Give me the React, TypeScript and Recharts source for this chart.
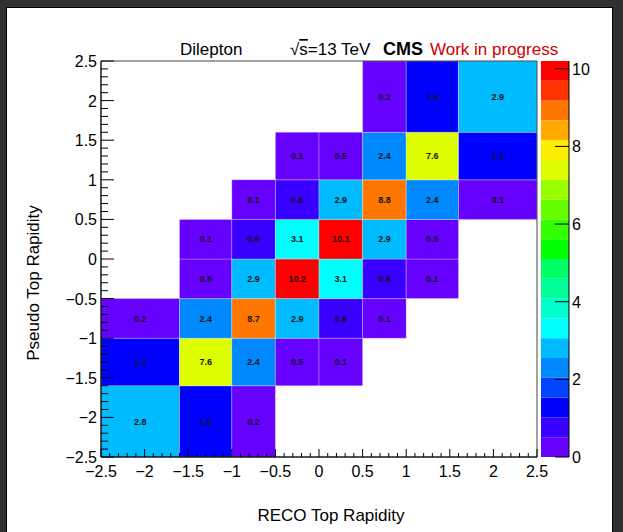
import React from 'react'
import { ScatterChart, Scatter, XAxis, YAxis, ReferenceArea } from 'recharts'

// bin edges (same binning on both axes)
const xEdges = [-2.5, -1.6, -1, -0.5, 0, 0.5, 1, 1.6, 2.5]
const yEdges = [-2.5, -1.6, -1, -0.5, 0, 0.5, 1, 1.6, 2.5]

// one array per y bin, bottom to top; null = empty bin
const row0 = [2.8, 1.5, 0.2, null, null, null, null, null]
const row1 = [1.2, 7.6, 2.4, 0.5, 0.1, null, null, null]
const row2 = [0.2, 2.4, 8.7, 2.9, 0.6, 0.1, null, null]
const row3 = [null, 0.5, 2.9, 10.2, 3.1, 0.6, 0.1, null]
const row4 = [null, 0.1, 0.6, 3.1, 10.1, 2.9, 0.5, null]
const row5 = [null, null, 0.1, 0.6, 2.9, 8.8, 2.4, 0.1]
const row6 = [null, null, null, 0.1, 0.5, 2.4, 7.6, 1.3]
const row7 = [null, null, null, null, null, 0.2, 1.5, 2.9]
const rows = [row0, row1, row2, row3, row4, row5, row6, row7]

// palette contours (20 levels, 0 .. 10.2)
const levels = [
  0, 0.51, 1.02, 1.53, 2.04, 2.55, 3.06, 3.57, 4.08, 4.59, 5.1, 5.61, 6.12, 6.63,
  7.14, 7.65, 8.16, 8.67, 9.18, 9.69, 10.2,
]
const palette = [
  '#6600ff', '#3a00ff', '#0000ff', '#0044ff', '#0088ff', '#00bbff', '#00ffff',
  '#00ffcc', '#00ff99', '#00ff66', '#00ff00', '#33ff00', '#66ff00', '#99ff00',
  '#ddff00', '#ffee00', '#ffaa00', '#ff7700', '#ff3300', '#ff0000',
]

const axisTicks = [-2.5, -2, -1.5, -1, -0.5, 0, 0.5, 1, 1.5, 2, 2.5]
const zTicks = [0, 2, 4, 6, 8, 10]

// minor ticks every 0.1 between the labelled ones
const minorTicks = Array.from({ length: 51 }, (_, i) => Math.round((-2.5 + i * 0.1) * 10) / 10)

const FONT = '"Liberation Sans", Arial, Helvetica, sans-serif'

const colorFor = (v: number) => {
  for (let i = palette.length - 1; i >= 0; i--) {
    if (v >= levels[i]) return palette[i]
  }
  return palette[0]
}

const fmt = (v: number) => (v < 0 ? '\u2212' + String(-v) : String(v))
const isMajor = (v: number) => axisTicks.some((t) => Math.abs(t - v) < 1e-6)

const cells = rows.flatMap((row, j) =>
  row
    .map((v, i) =>
      v == null
        ? null
        : { x1: xEdges[i], x2: xEdges[i + 1], y1: yEdges[j], y2: yEdges[j + 1], v, cx: (xEdges[i] + xEdges[i + 1]) / 2, cy: (yEdges[j] + yEdges[j + 1]) / 2 }
    )
    .filter((c) => c != null)
) as { x1: number; x2: number; y1: number; y2: number; v: number; cx: number; cy: number }[]

const XTick = (props: any) => {
  const { x, y, payload } = props
  const major = isMajor(payload.value)
  return (
    <g>
      <line x1={x} x2={x} y1={y} y2={y - (major ? 8 : 4)} stroke="#000" strokeWidth={1} />
      {major && (
        <text x={x} y={y + 20} textAnchor="middle" fontSize={16} fontFamily={FONT} fill="#000">
          {fmt(payload.value)}
        </text>
      )}
    </g>
  )
}

const YTick = (props: any) => {
  const { x, y, payload } = props
  const major = isMajor(payload.value)
  return (
    <g>
      <line x1={x} x2={x + (major ? 13 : 7)} y1={y} y2={y} stroke="#000" strokeWidth={1} />
      {major && (
        <text x={x - 4} y={y + 6} textAnchor="end" fontSize={16} fontFamily={FONT} fill="#000">
          {fmt(payload.value)}
        </text>
      )}
    </g>
  )
}

const ZTick = (props: any) => {
  const { x, y, payload } = props
  return (
    <g>
      <line x1={x - 14} x2={x} y1={y} y2={y} stroke="#000" strokeWidth={1} />
      <text x={x + 3} y={y + 6} textAnchor="start" fontSize={16} fontFamily={FONT} fill="#000">
        {String(payload.value)}
      </text>
    </g>
  )
}

export default function App() {
  return (
    <div
      style={{
        position: 'absolute',
        left: 0,
        top: 0,
        width: 623,
        height: 532,
        background: '#303030',
        overflow: 'hidden',
        fontFamily: FONT,
      }}
    >
      <div
        style={{
          position: 'absolute',
          left: 6,
          top: 7,
          width: 605,
          height: 540,
          background: '#fff',
          border: '1px solid #000',
        }}
      />
      <div style={{ position: 'absolute', left: 0, top: 0 }}>
        <ScatterChart width={623} height={532} margin={{ top: 61, right: 86, bottom: 35, left: 41 }}>
          <XAxis
            type="number"
            dataKey="cx"
            domain={[-2.5, 2.5]}
            ticks={minorTicks}
            interval={0}
            tick={<XTick />}
            tickLine={false}
            tickSize={0}
            tickMargin={0}
            height={40}
            axisLine={{ stroke: '#000' }}
            allowDataOverflow
          />
          <YAxis
            type="number"
            dataKey="cy"
            domain={[-2.5, 2.5]}
            ticks={minorTicks}
            interval={0}
            tick={<YTick />}
            tickLine={false}
            tickSize={0}
            tickMargin={0}
            width={60}
            axisLine={{ stroke: '#000' }}
            allowDataOverflow
          />
          {cells.map((c, k) => (
            <ReferenceArea
              key={k}
              x1={c.x1}
              x2={c.x2}
              y1={c.y1}
              y2={c.y2}
              fill={colorFor(c.v)}
              fillOpacity={1}
              stroke="#ffffff"
              strokeOpacity={0.35}
              strokeWidth={0.8}
              ifOverflow="visible"
              label={{ value: c.v.toFixed(1), position: 'center', fill: '#151515', fontSize: 9, fontWeight: 700, fontFamily: FONT }}
            />
          ))}
          <ReferenceArea
            x1={-2.5}
            x2={2.5}
            y1={-2.5}
            y2={2.5}
            fill="none"
            stroke="#444"
            strokeWidth={1}
            ifOverflow="visible"
          />
          <Scatter data={cells} isAnimationActive={false} fill="none" shape={() => <g />} />
        </ScatterChart>
      </div>
      <div style={{ position: 'absolute', left: 541, top: 0 }}>
        <ScatterChart width={82} height={532} margin={{ top: 61, right: 0, bottom: 75, left: 0 }}>
          <XAxis type="number" dataKey="x" domain={[0, 1]} hide />
          <YAxis
            yAxisId="z"
            orientation="right"
            type="number"
            dataKey="z"
            domain={[0, 10.2]}
            ticks={zTicks}
            interval={0}
            tick={<ZTick />}
            tickLine={false}
            tickSize={0}
            tickMargin={0}
            width={54}
            axisLine={{ stroke: '#000' }}
            allowDataOverflow
          />
          {palette.map((col, i) => (
            <ReferenceArea
              key={i}
              yAxisId="z"
              x1={0}
              x2={1}
              y1={levels[i]}
              y2={levels[i + 1]}
              fill={col}
              fillOpacity={1}
              ifOverflow="visible"
            />
          ))}
          <Scatter yAxisId="z" data={[{ x: 0.5, z: 0 }]} isAnimationActive={false} fill="none" shape={() => <g />} />
        </ScatterChart>
      </div>
      <svg width={623} height={532} style={{ position: 'absolute', left: 0, top: 0, pointerEvents: 'none' }}>
        <text x={180} y={55} fontSize={17} fontFamily={FONT} fill="#000">
          Dilepton
        </text>
        <text x={290} y={55} fontSize={17} fontFamily={FONT} fill="#000">
          <tspan>√</tspan>
          <tspan style={{ textDecoration: 'overline' }}>s</tspan>
          <tspan>=13 TeV</tspan>
        </text>
        <text x={383} y={55} fontSize={18} fontWeight={700} fontFamily={FONT} fill="#000">
          CMS
        </text>
        <text x={430} y={55} fontSize={17} fontFamily={FONT} fill="#cc0000">
          Work in progress
        </text>
        <text x={331} y={521} textAnchor="middle" fontSize={17} fontFamily={FONT} fill="#000">
          RECO Top Rapidity
        </text>
        <text
          transform="translate(39 283) rotate(-90)"
          textAnchor="middle"
          fontSize={17}
          fontFamily={FONT}
          fill="#000"
        >
          Pseudo Top Rapidity
        </text>
      </svg>
    </div>
  )
}
